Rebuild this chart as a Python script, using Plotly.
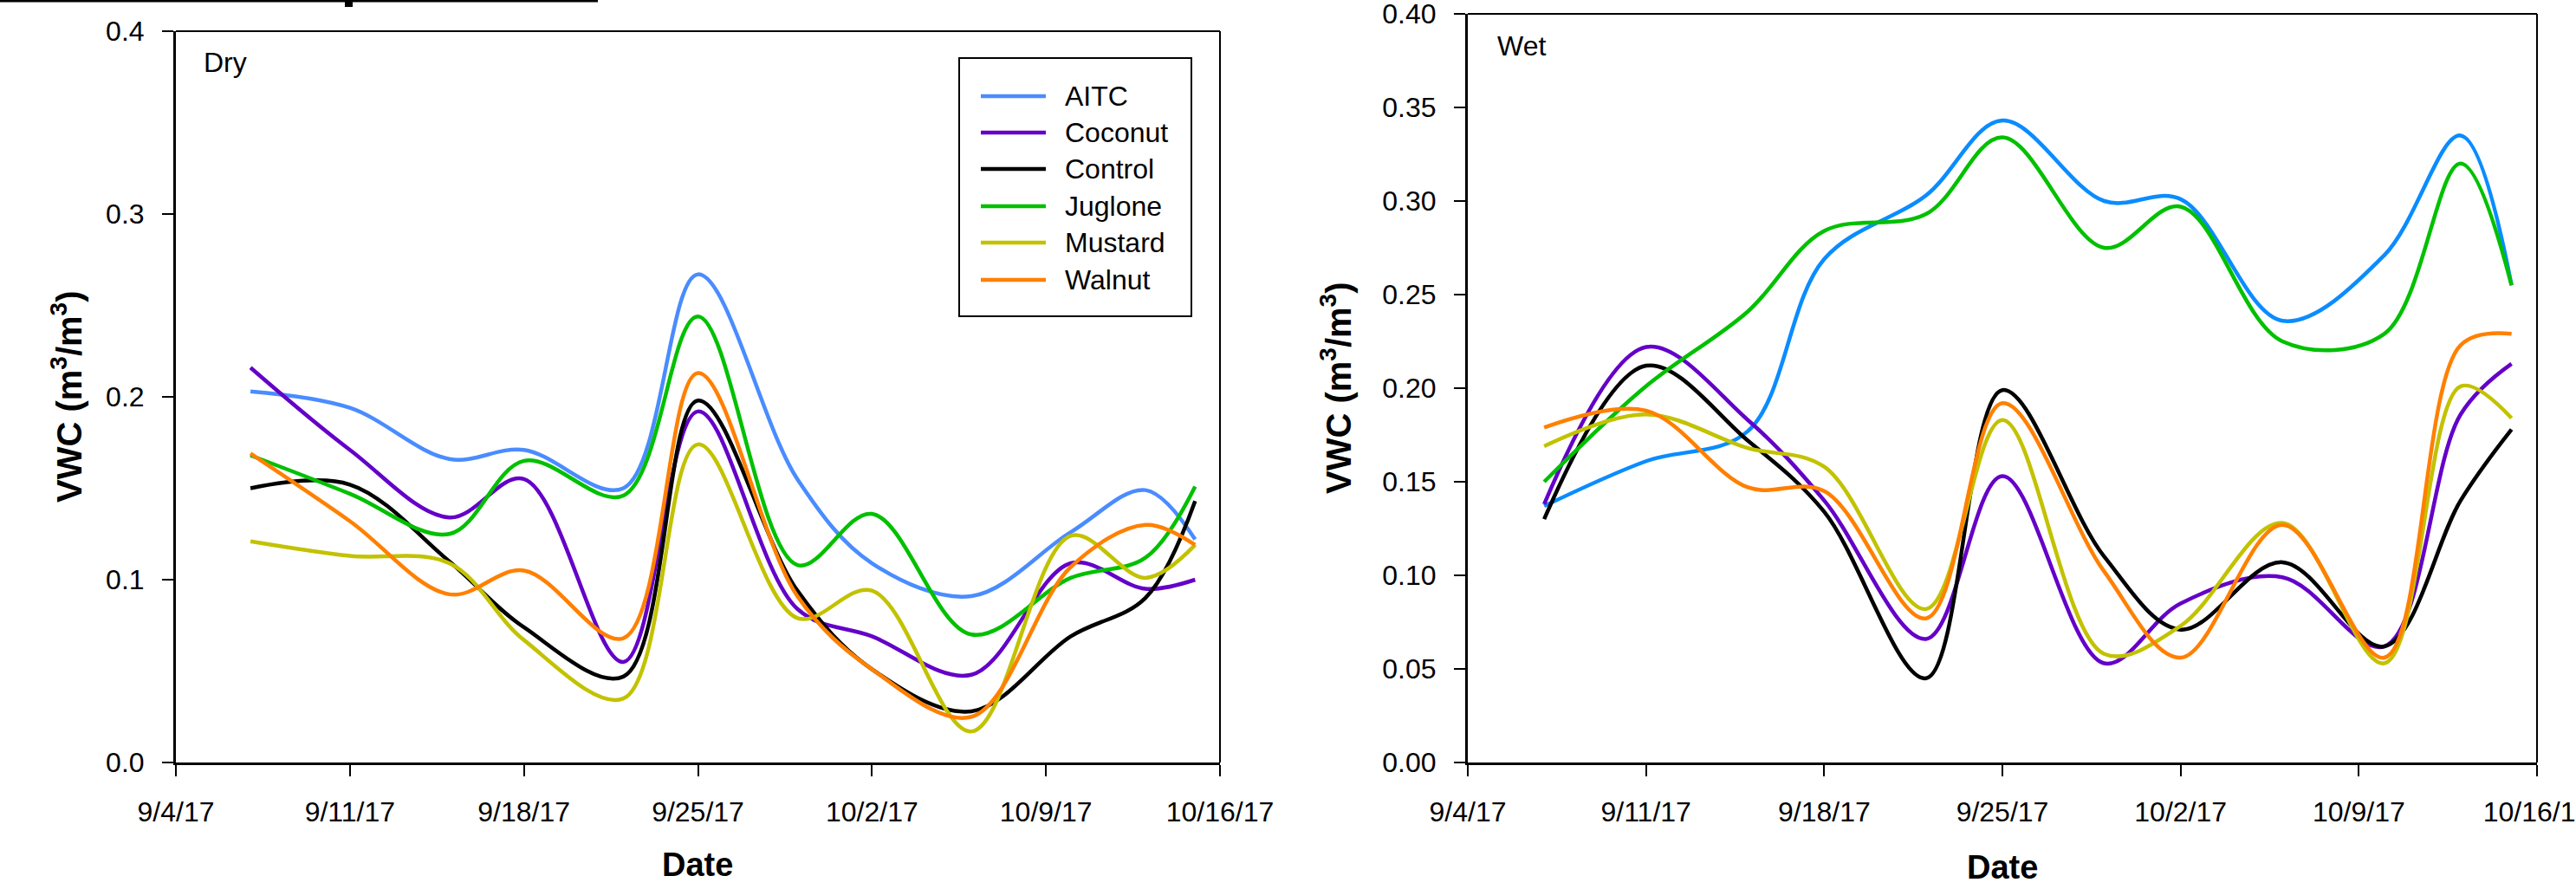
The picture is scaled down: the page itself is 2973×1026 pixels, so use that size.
import plotly.graph_objects as go

# Sampling dates (same for both plots)
dates = ["2017-09-07", "2017-09-11", "2017-09-15", "2017-09-18", "2017-09-22", "2017-09-25",
         "2017-09-29", "2017-10-02", "2017-10-06", "2017-10-10", "2017-10-13", "2017-10-15"]

treatments = ["AITC", "Coconut", "Control", "Juglone", "Mustard", "Walnut"]

# Volumetric water content, dry plots (m3/m3)
dry_aitc    = [0.203, 0.194, 0.166, 0.171, 0.150, 0.267, 0.155, 0.109, 0.091, 0.126, 0.149, 0.122]
dry_coconut = [0.216, 0.171, 0.134, 0.155, 0.055, 0.192, 0.084, 0.069, 0.048, 0.109, 0.095, 0.100]
dry_control = [0.150, 0.152, 0.110, 0.074, 0.047, 0.198, 0.094, 0.051, 0.028, 0.069, 0.090, 0.143]
dry_juglone = [0.168, 0.147, 0.125, 0.165, 0.146, 0.244, 0.108, 0.136, 0.070, 0.101, 0.112, 0.151]
dry_mustard = [0.121, 0.113, 0.109, 0.067, 0.035, 0.174, 0.079, 0.094, 0.017, 0.124, 0.101, 0.119]
dry_walnut  = [0.169, 0.132, 0.092, 0.105, 0.068, 0.213, 0.091, 0.051, 0.025, 0.107, 0.130, 0.119]

# Volumetric water content, wet plots (m3/m3)
wet_aitc    = [0.137, 0.161, 0.177, 0.269, 0.303, 0.343, 0.300, 0.301, 0.236, 0.271, 0.335, 0.255]
wet_coconut = [0.138, 0.222, 0.183, 0.140, 0.066, 0.153, 0.053, 0.085, 0.099, 0.062, 0.186, 0.213]
wet_control = [0.130, 0.212, 0.172, 0.134, 0.045, 0.199, 0.110, 0.071, 0.107, 0.062, 0.140, 0.178]
wet_juglone = [0.150, 0.201, 0.241, 0.284, 0.293, 0.334, 0.275, 0.297, 0.225, 0.229, 0.320, 0.255]
wet_mustard = [0.169, 0.186, 0.168, 0.158, 0.082, 0.183, 0.058, 0.073, 0.128, 0.053, 0.201, 0.184]
wet_walnut  = [0.179, 0.188, 0.147, 0.145, 0.077, 0.192, 0.102, 0.056, 0.127, 0.056, 0.223, 0.229]

x_tick_dates = ["2017-09-04", "2017-09-11", "2017-09-18", "2017-09-25",
                "2017-10-02", "2017-10-09", "2017-10-16"]
dry_yticks = [0.0, 0.1, 0.2, 0.3, 0.4]
wet_yticks = [0.00, 0.05, 0.10, 0.15, 0.20, 0.25, 0.30, 0.35, 0.40]

dry_series = [dry_aitc, dry_coconut, dry_control, dry_juglone, dry_mustard, dry_walnut]
wet_series = [wet_aitc, wet_coconut, wet_control, wet_juglone, wet_mustard, wet_walnut]

dry_colors = ["#4A8CFF", "#6400C8", "#000000", "#00C000", "#C2C200", "#FF8000"]
wet_colors = ["#0A8CFF", "#6400C8", "#000000", "#00C000", "#C2C200", "#FF8000"]

W, H = 2973, 1026
FONT = "Liberation Sans, Arial, sans-serif"


def px_x(p):
    return p / W


def px_y(p):
    return 1 - p / H


fig = go.Figure()

for name, vals, col in zip(treatments, dry_series, dry_colors):
    fig.add_trace(go.Scatter(x=dates, y=vals, name=name, mode="lines",
                             line=dict(color=col, width=4.5, shape="spline", smoothing=1.0),
                             xaxis="x", yaxis="y", showlegend=False))

for name, vals, col in zip(treatments, wet_series, wet_colors):
    fig.add_trace(go.Scatter(x=dates, y=vals, name=name, mode="lines",
                             line=dict(color=col, width=4.5, shape="spline", smoothing=1.0),
                             xaxis="x2", yaxis="y2", showlegend=False))

common_x = dict(type="date", range=["2017-09-04", "2017-10-16"], tickvals=x_tick_dates,
                tickformat="%-m/%-d/%y", showgrid=False, zeroline=False, showline=True,
                linecolor="black", linewidth=3, ticks="outside", ticklen=13, tickwidth=2,
                tickcolor="black", tickfont=dict(family=FONT, size=32, color="black"),
                ticklabelstandoff=14, automargin=False, ticklabeloverflow="allow")
common_y = dict(showgrid=False, zeroline=False, showline=True, linecolor="black",
                linewidth=3, ticks="outside", ticklen=13, tickwidth=2, tickcolor="black",
                tickfont=dict(family=FONT, size=32, color="black"), ticklabelstandoff=14,
                automargin=False, ticklabeloverflow="allow")

plot_bottom = px_y(880)

fig.update_layout(
    width=W, height=H,
    autosize=False,
    margin=dict(l=0, r=0, t=0, b=0, pad=0, autoexpand=False),
    paper_bgcolor="white", plot_bgcolor="white",
    font=dict(family=FONT, color="black"),
    xaxis=dict(domain=[px_x(203), px_x(1408)], anchor="y", **common_x),
    yaxis=dict(domain=[plot_bottom, px_y(36)], anchor="x", range=[0, 0.4],
               tickvals=dry_yticks, tickformat=".1f", **common_y),
    xaxis2=dict(domain=[px_x(1694), px_x(2928)], anchor="y2", **common_x),
    yaxis2=dict(domain=[plot_bottom, px_y(16)], anchor="x2", range=[0, 0.4],
                tickvals=wet_yticks, tickformat=".2f", **common_y),
)

shapes = []
# thin top and right frame lines of each panel
for xr, yr in (("x", "y"), ("x2", "y2")):
    shapes.append(dict(type="line", xref=f"{xr} domain", yref=f"{yr} domain",
                       x0=0, x1=1, y0=1, y1=1, line=dict(color="black", width=2)))
    shapes.append(dict(type="line", xref=f"{xr} domain", yref=f"{yr} domain",
                       x0=1, x1=1, y0=0, y1=1, line=dict(color="black", width=2)))

# rule and glyph fragment along the upper edge
shapes.append(dict(type="line", xref="paper", yref="paper", x0=0, x1=px_x(690),
                   y0=px_y(1), y1=px_y(1), line=dict(color="black", width=3)))
shapes.append(dict(type="rect", xref="paper", yref="paper", x0=px_x(398), x1=px_x(407),
                   y0=px_y(8), y1=px_y(0), line=dict(width=0), fillcolor="black"))

# legend box for the dry panel
shapes.append(dict(type="rect", xref="paper", yref="paper", x0=px_x(1107), x1=px_x(1375),
                   y0=px_y(365), y1=px_y(67), line=dict(color="black", width=2),
                   fillcolor="white", layer="above"))

annotations = []
legend_rows = [111, 153, 195, 238, 280, 323]
for name, col, ry in zip(treatments, dry_colors, legend_rows):
    shapes.append(dict(type="line", xref="paper", yref="paper", x0=px_x(1132), x1=px_x(1207),
                       y0=px_y(ry), y1=px_y(ry), line=dict(color=col, width=4.5), layer="above"))
    annotations.append(dict(text=name, xref="paper", yref="paper", x=px_x(1227), y=px_y(ry),
                            xanchor="left", yanchor="middle", showarrow=False,
                            font=dict(family=FONT, size=32, color="black")))

# panel labels
annotations.append(dict(text="Dry", xref="paper", yref="paper", x=px_x(233), y=px_y(72),
                        xanchor="left", yanchor="middle", showarrow=False,
                        font=dict(family=FONT, size=32, color="black")))
annotations.append(dict(text="Wet", xref="paper", yref="paper", x=px_x(1726), y=px_y(53),
                        xanchor="left", yanchor="middle", showarrow=False,
                        font=dict(family=FONT, size=32, color="black")))

# axis titles
ytitle = "<b>VWC (m<sup>3</sup>/m<sup>3</sup>)</b>"
annotations.append(dict(text=ytitle, xref="paper", yref="paper", x=px_x(77), y=px_y(458),
                        xanchor="center", yanchor="middle", textangle=-90, showarrow=False,
                        font=dict(family=FONT, size=40, color="black")))
annotations.append(dict(text=ytitle, xref="paper", yref="paper", x=px_x(1542), y=px_y(448),
                        xanchor="center", yanchor="middle", textangle=-90, showarrow=False,
                        font=dict(family=FONT, size=40, color="black")))
annotations.append(dict(text="<b>Date</b>", xref="paper", yref="paper", x=px_x(805), y=px_y(998),
                        xanchor="center", yanchor="middle", showarrow=False,
                        font=dict(family=FONT, size=38, color="black")))
annotations.append(dict(text="<b>Date</b>", xref="paper", yref="paper", x=px_x(2311), y=px_y(1001),
                        xanchor="center", yanchor="middle", showarrow=False,
                        font=dict(family=FONT, size=38, color="black")))

fig.update_layout(shapes=shapes, annotations=annotations)

fig.write_html("out.html")
